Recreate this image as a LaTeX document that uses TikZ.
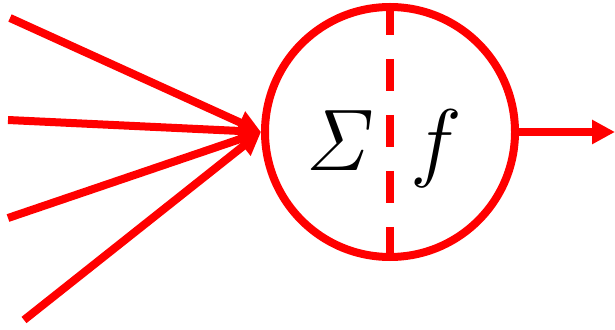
\documentclass[tikz,border=0pt]{standalone}
\usepackage{amsmath}
\usepackage{tikz}
\usetikzlibrary{positioning,arrows.meta}
\definecolor{NeuronRed}{RGB}{255,0,0}

\begin{document}
\begin{tikzpicture}[
arr/.style={-{Triangle[length=0.46cm, width=0.46cm]}, line width=0.16cm, draw=NeuronRed},
neuron/.style={draw=NeuronRed, circle, line width=0.16cm, minimum size=5cm, inner sep=0pt},
split/.style={draw=NeuronRed, line width=0.16cm, dash pattern=on 0.64cm off 0.48cm},
sym/.style={font=\huge, scale=2.4, transform shape, anchor=base, inner sep=0pt}
]
\useasboundingbox (0,0) rectangle (12.3,6.58);
\node[neuron] (cell) at (7.8,3.94) {};
\node[sym] (sum) at (6.8,3.18) {$\mathit{\Sigma}$};
\node[sym] (act) at (8.72,3.18) {$f$};

\coordinate (in1) at (0.2,6.22);
\coordinate (in2) at (0.16,4.18);
\coordinate (in3) at (0.16,2.22);
\coordinate (in4) at (0.48,0.18);
\coordinate (out) at (12.3,3.94);

\draw[split] (cell.north) -- (cell.south);
\draw[arr] (in1) -- (cell.west);
\draw[arr] (in2) -- (cell.west);
\draw[arr] (in3) -- (cell.west);
\draw[arr] (in4) -- (cell.west);
\draw[arr] (cell.east) -- (out);
\end{tikzpicture}
\end{document}
